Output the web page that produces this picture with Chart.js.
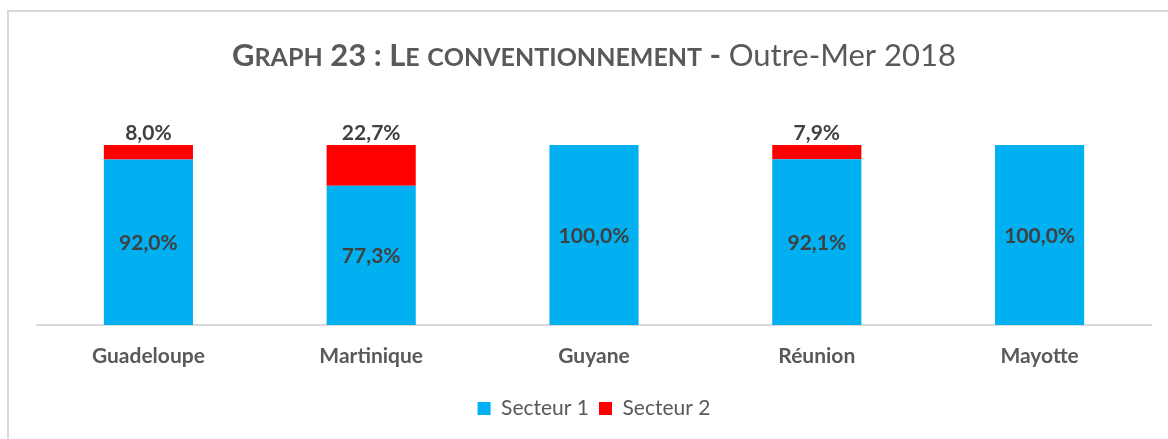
<!DOCTYPE html>
<html>
<head>
<meta charset="utf-8">
<script src="https://cdn.jsdelivr.net/npm/chart.js@4/dist/chart.umd.min.js"></script>
<style>
  html, body { margin: 0; padding: 0; background: #ffffff; }
  #wrap { width: 1168px; height: 439px; position: relative; }
</style>
</head>
<body>
<div id="wrap"><canvas id="conventionChart" width="1168" height="439"></canvas></div>
<script>
// Data
const categories = ['Guadeloupe', 'Martinique', 'Guyane', 'Réunion', 'Mayotte'];
const secteur1 = [92.0, 77.3, 100.0, 92.1, 100.0];
const secteur2 = [8.0, 22.7, 0, 7.9, 0];
const seriesNames = ['Secteur 1', 'Secteur 2'];
const titleMain = 'Graph 23 : Le conventionnement';
const titleSub = 'Outre-Mer 2018';

const FONT = "Lato, 'Open Sans', 'DejaVu Sans', sans-serif";
const GREY = '#595959';

function fmtPct(v) {
    return v.toFixed(1).replace('.', ',') + '%';
}

// Frame of the original chart box (only top/left edges are visible)
const framePlugin = {
    id: 'frame',
    beforeDraw(chart) {
        const ctx = chart.ctx;
        ctx.save();
        ctx.strokeStyle = '#d9d9d9';
        ctx.lineWidth = 2;
        ctx.beginPath();
        ctx.moveTo(8, 439);
        ctx.lineTo(8, 11);
        ctx.lineTo(1168, 11);
        ctx.stroke();
        ctx.restore();
    }
};

// Title with small caps for the first part
const titlePlugin = {
    id: 'smallCapsTitle',
    afterDraw(chart) {
        const ctx = chart.ctx;
        const big = 31, small = 25;
        const parts = [];
        for (const ch of titleMain) {
            const lower = ch !== ch.toUpperCase();
            parts.push({ text: ch.toUpperCase(), font: 'bold ' + (lower ? small : big) + 'px ' + FONT });
        }
        parts.push({ text: ' - ', font: 'bold ' + big + 'px ' + FONT });
        parts.push({ text: titleSub, font: 'normal ' + big + 'px ' + FONT });

        let total = 0;
        parts.forEach(p => { ctx.font = p.font; p.w = ctx.measureText(p.text).width; total += p.w; });
        const cx = (chart.chartArea.left + chart.chartArea.right) / 2;
        let x = cx - total / 2;
        ctx.save();
        ctx.fillStyle = GREY;
        ctx.textBaseline = 'alphabetic';
        ctx.textAlign = 'left';
        parts.forEach(p => {
            ctx.font = p.font;
            ctx.fillText(p.text, x, 66);
            x += p.w;
        });
        ctx.restore();
    }
};

// Value labels: Secteur 1 centered in its bar, Secteur 2 above the stack
const valueLabelPlugin = {
    id: 'valueLabels',
    afterDatasetsDraw(chart) {
        const ctx = chart.ctx;
        ctx.save();
        ctx.font = 'bold 21px ' + FONT;
        ctx.fillStyle = '#404040';
        ctx.textAlign = 'center';
        chart.data.datasets.forEach((ds, di) => {
            const meta = chart.getDatasetMeta(di);
            meta.data.forEach((bar, i) => {
                const v = ds.data[i];
                if (!v) return;
                if (di === 0) {
                    ctx.textBaseline = 'middle';
                    ctx.fillText(fmtPct(v), bar.x, (bar.y + bar.base) / 2 + 1);
                } else {
                    ctx.textBaseline = 'bottom';
                    ctx.fillText(fmtPct(v), bar.x, bar.y - 1);
                }
            });
        });
        ctx.restore();
    }
};

const ctx = document.getElementById('conventionChart').getContext('2d');
const conventionChart = new Chart(ctx, {
    type: 'bar',
    data: {
        labels: categories,
        datasets: [{
            label: seriesNames[0],
            data: secteur1,
            backgroundColor: '#00B0F0',
            borderWidth: 0,
            categoryPercentage: 1,
            barPercentage: 0.4
        }, {
            label: seriesNames[1],
            data: secteur2,
            backgroundColor: '#FF0000',
            borderWidth: 0,
            categoryPercentage: 1,
            barPercentage: 0.4
        }]
    },
    options: {
        responsive: false,
        animation: false,
        layout: {
            padding: { left: 37, right: 17, top: 145, bottom: 10 }
        },
        plugins: {
            title: { display: false },
            tooltip: { enabled: false },
            legend: {
                position: 'bottom',
                labels: {
                    boxWidth: 13,
                    boxHeight: 13,
                    padding: 10,
                    color: GREY,
                    font: { family: FONT, size: 21 }
                }
            }
        },
        scales: {
            x: {
                stacked: true,
                grid: { display: false, drawTicks: false },
                border: { display: true, color: '#d9d9d9', width: 2 },
                ticks: {
                    color: GREY,
                    padding: 19,
                    font: { family: FONT, size: 21, weight: 'bold' }
                },
                afterFit: function(scale) {
                    scale.height = 63;
                }
            },
            y: {
                stacked: true,
                display: false,
                min: 0,
                max: 100
            }
        }
    },
    plugins: [framePlugin, titlePlugin, valueLabelPlugin]
});
</script>
</body>
</html>
